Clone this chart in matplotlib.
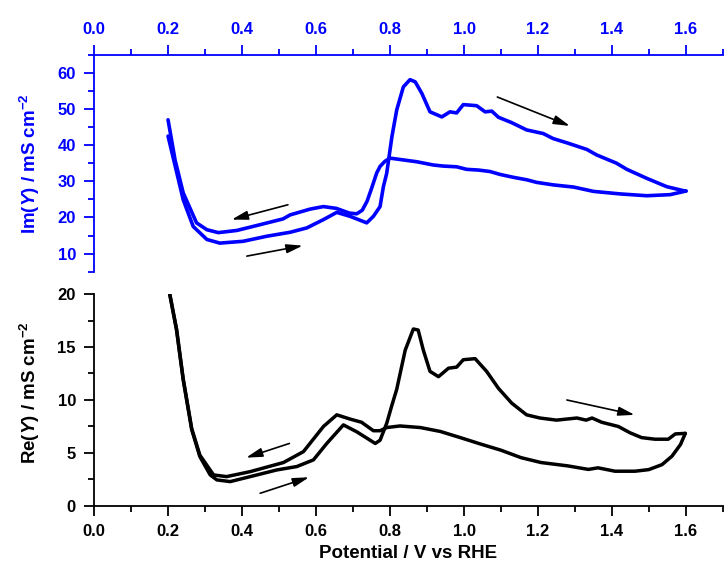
import matplotlib
matplotlib.use('Agg')
import matplotlib.pyplot as plt
from matplotlib.ticker import MultipleLocator

# Im(Y), anodic sweep (0.2 -> 1.6 V)
im_fwd_x = [0.2, 0.241, 0.268, 0.305, 0.34, 0.403, 0.467, 0.53, 0.575, 0.62, 0.656, 0.692, 0.737, 0.755,
            0.773, 0.782, 0.791, 0.805, 0.818, 0.836, 0.854, 0.868, 0.886, 0.908, 0.94, 0.962, 0.98, 0.998,
            1.034, 1.057, 1.075, 1.093, 1.129, 1.169, 1.214, 1.241, 1.282, 1.332, 1.358, 1.412, 1.44, 1.494,
            1.548, 1.593, 1.6]
im_fwd_y = [42.5, 24.9, 17.5, 13.9, 12.9, 13.4, 14.8, 15.9, 17.1, 19.4, 21.4, 20.3, 18.5, 20.3,
            23.0, 28.5, 32.2, 42.3, 49.7, 56.1, 58.1, 57.5, 54.3, 49.2, 47.8, 49.2, 48.9, 51.2,
            50.9, 49.2, 49.4, 47.7, 46.2, 44.2, 43.2, 41.8, 40.5, 38.8, 37.3, 35.0, 33.3, 30.8,
            28.5, 27.4, 27.3]

# Im(Y), cathodic sweep (1.6 -> 0.2 V)
im_rev_x = [1.6, 1.557, 1.494, 1.422, 1.35, 1.296, 1.241, 1.196, 1.17, 1.133, 1.097, 1.07, 1.039, 1.007,
            0.98, 0.944, 0.917, 0.872, 0.836, 0.8, 0.786, 0.773, 0.764, 0.75, 0.738, 0.725, 0.71, 0.69,
            0.655, 0.62, 0.584, 0.53, 0.511, 0.449, 0.386, 0.336, 0.305, 0.277, 0.241, 0.219, 0.2]
im_rev_y = [27.3, 26.3, 26.0, 26.5, 27.2, 28.4, 29.0, 29.7, 30.4, 31.1, 31.9, 32.7, 33.1, 33.3,
            34.0, 34.2, 34.5, 35.4, 35.9, 36.4, 35.5, 34.1, 32.3, 28.0, 24.5, 22.0, 21.0, 21.2,
            22.5, 23.0, 22.3, 20.7, 19.6, 18.0, 16.4, 15.8, 16.6, 18.5, 26.8, 35.9, 47.0]

# Re(Y), anodic sweep
re_fwd_x = [0.2, 0.204, 0.223, 0.241, 0.264, 0.286, 0.314, 0.332, 0.368, 0.422, 0.494, 0.548, 0.593,
            0.629, 0.674, 0.71, 0.76, 0.773, 0.791, 0.805, 0.818, 0.841, 0.863, 0.876, 0.89, 0.908, 0.931,
            0.958, 0.98, 0.998, 1.03, 1.061, 1.093, 1.129, 1.169, 1.205, 1.25, 1.305, 1.33, 1.346, 1.372,
            1.417, 1.449, 1.48, 1.516, 1.552, 1.571, 1.598]
re_fwd_y = [21.0, 20.1, 16.6, 11.9, 7.2, 4.66, 2.93, 2.46, 2.3, 2.77, 3.4, 3.72, 4.35,
            5.9, 7.65, 7.0, 5.9, 6.2, 7.8, 9.5, 11.0, 14.7, 16.7, 16.6, 14.7, 12.7, 12.2,
            13.0, 13.1, 13.8, 13.9, 12.7, 11.1, 9.7, 8.6, 8.3, 8.1, 8.3, 8.1, 8.3, 7.9,
            7.5, 6.9, 6.45, 6.3, 6.3, 6.8, 6.85]

# Re(Y), cathodic sweep
re_rev_x = [1.598, 1.585, 1.562, 1.535, 1.499, 1.462, 1.408, 1.362, 1.336, 1.281, 1.208, 1.154, 1.1,
            1.046, 0.99, 0.936, 0.882, 0.827, 0.791, 0.773, 0.755, 0.723, 0.692, 0.656, 0.62, 0.566,
            0.512, 0.422, 0.358, 0.323, 0.286, 0.264, 0.241, 0.223, 0.204, 0.2]
re_rev_y = [6.85, 5.8, 4.7, 3.9, 3.43, 3.28, 3.28, 3.6, 3.45, 3.78, 4.1, 4.56, 5.26,
            5.83, 6.45, 7.03, 7.4, 7.55, 7.4, 7.1, 7.1, 7.9, 8.2, 8.6, 7.5, 5.13,
            4.1, 3.24, 2.77, 2.93, 4.8, 7.3, 12.0, 16.7, 20.1, 21.0]

# sweep direction arrows: (x_start, y_start, x_end, y_end)
im_arrows = [(0.524, 23.5, 0.372, 19.4), (0.413, 9.3, 0.564, 12.2), (1.09, 53.3, 1.286, 45.3)]
re_arrows = [(0.528, 5.9, 0.411, 4.56), (0.449, 1.2, 0.581, 2.71), (1.278, 10.0, 1.461, 8.6)]

blue = '#0000ff'

plt.rcParams['font.family'] = 'Liberation Sans'
plt.rcParams['font.weight'] = 'bold'
plt.rcParams['axes.labelweight'] = 'bold'
plt.rcParams['mathtext.fontset'] = 'custom'
plt.rcParams['mathtext.rm'] = 'Liberation Sans:bold'
plt.rcParams['mathtext.it'] = 'Liberation Sans:bold:italic'
plt.rcParams['mathtext.bf'] = 'Liberation Sans:bold'
plt.rcParams['lines.solid_joinstyle'] = 'round'
plt.rcParams['lines.solid_capstyle'] = 'round'

fig = plt.figure(figsize=(7.25, 5.74), dpi=100)
ax1 = fig.add_axes([0.1297, 0.5267, 0.8676, 0.378])
ax2 = fig.add_axes([0.1297, 0.1185, 0.8676, 0.3693])


def add_arrows(ax, arrows):
    for x0, y0, x1, y1 in arrows:
        ax.annotate('', xy=(x1, y1), xytext=(x0, y0),
                    arrowprops=dict(arrowstyle='-|>,head_length=0.65,head_width=0.18',
                                    color='black', lw=1.2, mutation_scale=15,
                                    shrinkA=0, shrinkB=0))


# top panel: imaginary part
ax1.plot(im_fwd_x, im_fwd_y, color=blue, lw=2.6)
ax1.plot(im_rev_x, im_rev_y, color=blue, lw=2.6)
add_arrows(ax1, im_arrows)
ax1.set_xlim(0, 1.7)
ax1.set_ylim(5, 65)
ax1.xaxis.tick_top()
ax1.spines['bottom'].set_visible(False)
ax1.spines['right'].set_visible(False)
for s in ['top', 'left']:
    ax1.spines[s].set_color(blue)
    ax1.spines[s].set_linewidth(1.3)
ax1.xaxis.set_major_locator(MultipleLocator(0.2))
ax1.xaxis.set_minor_locator(MultipleLocator(0.1))
ax1.yaxis.set_major_locator(MultipleLocator(10))
ax1.yaxis.set_minor_locator(MultipleLocator(5))
ax1.tick_params(which='both', direction='out', colors=blue, width=1.3, labelsize=12, pad=6)
ax1.tick_params(which='major', length=7)
ax1.tick_params(which='minor', length=4.5)
ax1.set_ylabel(r'Im($\mathit{Y}$) / mS cm$^{-2}$', color=blue, fontsize=13.5)
ax1.yaxis.set_label_coords(-0.083, 0.5)

# bottom panel: real part
ax2.plot(re_fwd_x, re_fwd_y, color='black', lw=2.5)
ax2.plot(re_rev_x, re_rev_y, color='black', lw=2.5)
add_arrows(ax2, re_arrows)
ax2.set_xlim(0, 1.7)
ax2.set_ylim(0, 20)
ax2.spines['top'].set_visible(False)
ax2.spines['right'].set_visible(False)
for s in ['bottom', 'left']:
    ax2.spines[s].set_linewidth(1.3)
ax2.xaxis.set_major_locator(MultipleLocator(0.2))
ax2.xaxis.set_minor_locator(MultipleLocator(0.1))
ax2.yaxis.set_major_locator(MultipleLocator(5))
ax2.yaxis.set_minor_locator(MultipleLocator(2.5))
ax2.tick_params(which='both', direction='out', width=1.3, labelsize=12, pad=6)
ax2.tick_params(which='major', length=7)
ax2.tick_params(which='minor', length=4.5)
ax2.set_ylabel(r'Re($\mathit{Y}$) / mS cm$^{-2}$', fontsize=13.5)
ax2.yaxis.set_label_coords(-0.083, 0.535)
ax2.set_xlabel('Potential / V vs RHE', fontsize=13.5)

fig.savefig('out.png', dpi=100)
